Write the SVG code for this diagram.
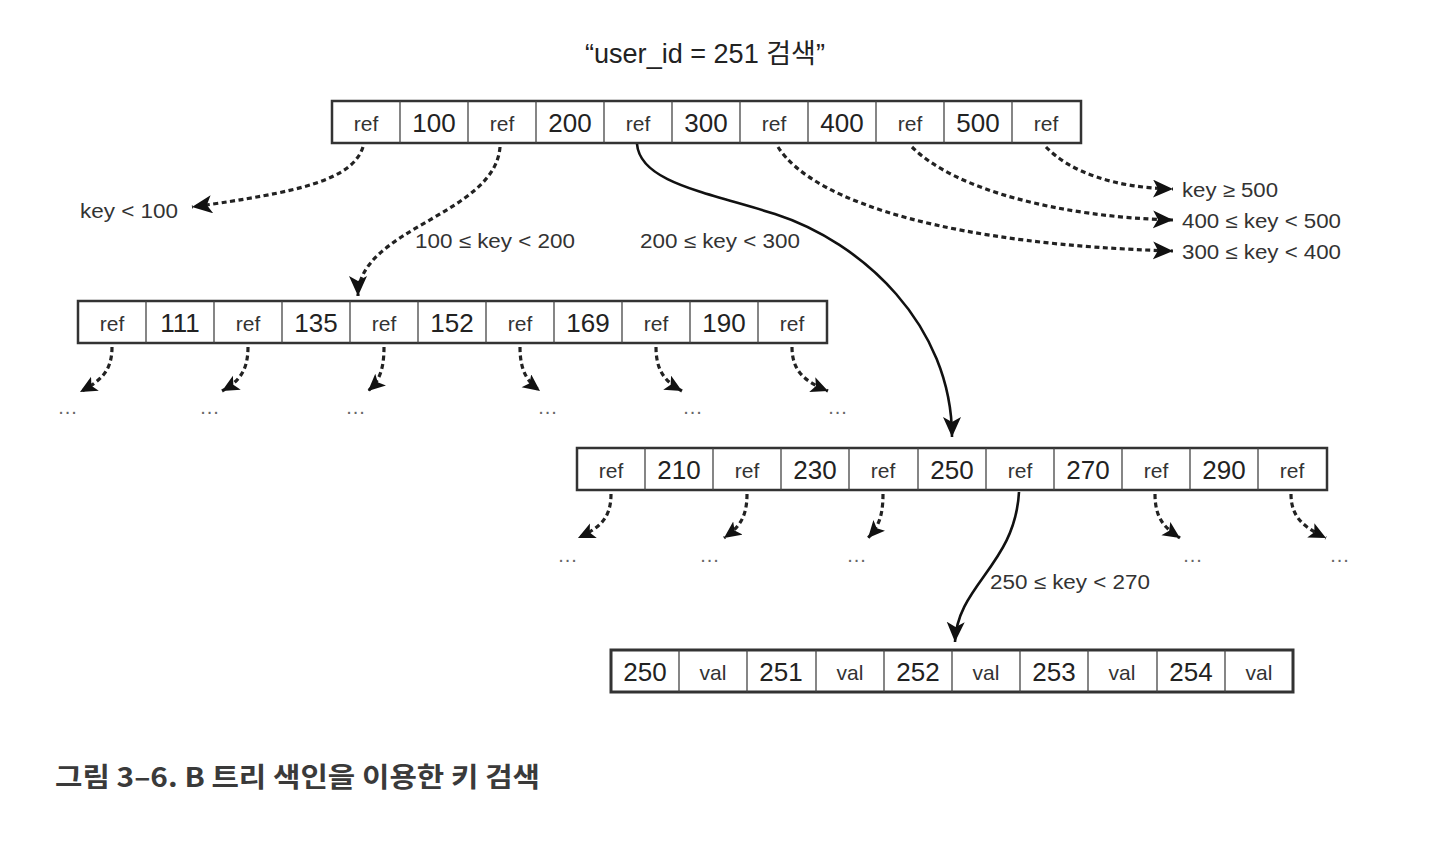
<svg xmlns="http://www.w3.org/2000/svg" width="1454" height="856" viewBox="0 0 1454 856">
<style>
.box{fill:#fff;stroke:#333;stroke-width:2.5}
.leaf{fill:#fff;stroke:#333;stroke-width:3}
.div{stroke:#444;stroke-width:1.3}
.num{font-family:"Liberation Sans",Arial,sans-serif;font-size:26px;fill:#222;text-anchor:middle}
.ref{font-family:"Liberation Sans",Arial,sans-serif;font-size:21px;fill:#333;text-anchor:middle}
.lbl{font-family:"Liberation Sans",Arial,sans-serif;font-size:20px;fill:#333}
.dots{font-family:"Liberation Sans",Arial,sans-serif;font-size:20px;fill:#666;text-anchor:middle;letter-spacing:1px}
.dash{fill:none;stroke:#222;stroke-width:3.2;stroke-dasharray:5 3.5}
.solid{fill:none;stroke:#111;stroke-width:2.6}
</style>
<defs>
<marker id="ah" markerUnits="userSpaceOnUse" markerWidth="22" markerHeight="20" refX="20" refY="9" orient="auto">
<path d="M0,0 L20,9 L0,18 L5,9 Z" fill="#111" stroke="none"/>
</marker>
<marker id="ahs" markerUnits="userSpaceOnUse" markerWidth="19" markerHeight="17" refX="17" refY="8" orient="auto">
<path d="M0,0 L17,8 L0,16 L4,8 Z" fill="#111" stroke="none"/>
</marker>
</defs>
<rect width="1454" height="856" fill="#fff"/>

<text id="title" x="705" y="63" font-family="Liberation Sans, Noto Sans CJK KR, sans-serif" font-size="27" fill="#222" text-anchor="middle" textLength="240" lengthAdjust="spacingAndGlyphs">“user_id = 251 검색”</text>

<g id="node-root">
<rect class="box" x="332" y="101" width="749" height="42"/>
<g class="div">
<line x1="400" y1="101" x2="400" y2="143"/><line x1="468" y1="101" x2="468" y2="143"/><line x1="536" y1="101" x2="536" y2="143"/><line x1="604" y1="101" x2="604" y2="143"/><line x1="672" y1="101" x2="672" y2="143"/><line x1="740" y1="101" x2="740" y2="143"/><line x1="808" y1="101" x2="808" y2="143"/><line x1="876" y1="101" x2="876" y2="143"/><line x1="944" y1="101" x2="944" y2="143"/><line x1="1012" y1="101" x2="1012" y2="143"/>
</g>
<text class="ref" x="366" y="131">ref</text><text class="num" x="434" y="132">100</text><text class="ref" x="502" y="131">ref</text><text class="num" x="570" y="132">200</text><text class="ref" x="638" y="131">ref</text><text class="num" x="706" y="132">300</text><text class="ref" x="774" y="131">ref</text><text class="num" x="842" y="132">400</text><text class="ref" x="910" y="131">ref</text><text class="num" x="978" y="132">500</text><text class="ref" x="1046" y="131">ref</text>
</g>

<g id="node-100-200">
<rect class="box" x="78" y="301" width="749" height="42"/>
<g class="div">
<line x1="146" y1="301" x2="146" y2="343"/><line x1="214" y1="301" x2="214" y2="343"/><line x1="282" y1="301" x2="282" y2="343"/><line x1="350" y1="301" x2="350" y2="343"/><line x1="418" y1="301" x2="418" y2="343"/><line x1="486" y1="301" x2="486" y2="343"/><line x1="554" y1="301" x2="554" y2="343"/><line x1="622" y1="301" x2="622" y2="343"/><line x1="690" y1="301" x2="690" y2="343"/><line x1="758" y1="301" x2="758" y2="343"/>
</g>
<text class="ref" x="112" y="331">ref</text><text class="num" x="180" y="332">111</text><text class="ref" x="248" y="331">ref</text><text class="num" x="316" y="332">135</text><text class="ref" x="384" y="331">ref</text><text class="num" x="452" y="332">152</text><text class="ref" x="520" y="331">ref</text><text class="num" x="588" y="332">169</text><text class="ref" x="656" y="331">ref</text><text class="num" x="724" y="332">190</text><text class="ref" x="792" y="331">ref</text>
</g>

<g id="node-200-300">
<rect class="box" x="577" y="448" width="750" height="42"/>
<g class="div">
<line x1="645" y1="448" x2="645" y2="490"/><line x1="713" y1="448" x2="713" y2="490"/><line x1="781" y1="448" x2="781" y2="490"/><line x1="849" y1="448" x2="849" y2="490"/><line x1="918" y1="448" x2="918" y2="490"/><line x1="986" y1="448" x2="986" y2="490"/><line x1="1054" y1="448" x2="1054" y2="490"/><line x1="1122" y1="448" x2="1122" y2="490"/><line x1="1190" y1="448" x2="1190" y2="490"/><line x1="1258" y1="448" x2="1258" y2="490"/>
</g>
<text class="ref" x="611" y="478">ref</text><text class="num" x="679" y="479">210</text><text class="ref" x="747" y="478">ref</text><text class="num" x="815" y="479">230</text><text class="ref" x="883" y="478">ref</text><text class="num" x="952" y="479">250</text><text class="ref" x="1020" y="478">ref</text><text class="num" x="1088" y="479">270</text><text class="ref" x="1156" y="478">ref</text><text class="num" x="1224" y="479">290</text><text class="ref" x="1292" y="478">ref</text>
</g>

<g id="node-leaf">
<rect class="leaf" x="611" y="650" width="682" height="42"/>
<g class="div">
<line x1="679" y1="650" x2="679" y2="692"/><line x1="747" y1="650" x2="747" y2="692"/><line x1="816" y1="650" x2="816" y2="692"/><line x1="884" y1="650" x2="884" y2="692"/><line x1="952" y1="650" x2="952" y2="692"/><line x1="1020" y1="650" x2="1020" y2="692"/><line x1="1088" y1="650" x2="1088" y2="692"/><line x1="1157" y1="650" x2="1157" y2="692"/><line x1="1225" y1="650" x2="1225" y2="692"/>
</g>
<text class="num" x="645" y="681">250</text><text class="ref" x="713" y="680">val</text><text class="num" x="781" y="681">251</text><text class="ref" x="850" y="680">val</text><text class="num" x="918" y="681">252</text><text class="ref" x="986" y="680">val</text><text class="num" x="1054" y="681">253</text><text class="ref" x="1122" y="680">val</text><text class="num" x="1191" y="681">254</text><text class="ref" x="1259" y="680">val</text>
</g>

<g id="connectors">
<path class="dash" d="M363,147 C352,180 300,192 192,207" marker-end="url(#ah)"/>
<path class="dash" d="M500,147 C495,215 358,228 358,296" marker-end="url(#ah)"/>
<path class="solid" d="M637,144 C640,182 705,192 775,214 C862,242 952,325 952,437" marker-end="url(#ah)"/>
<path class="dash" d="M778,147 C815,205 960,245 1173,251" marker-end="url(#ah)"/>
<path class="dash" d="M912,147 C955,190 1060,217 1173,220" marker-end="url(#ah)"/>
<path class="dash" d="M1046,147 C1070,172 1115,188 1173,189" marker-end="url(#ah)"/>

<path class="dash" d="M112,347 C112,372 100,381 80,392" marker-end="url(#ahs)"/>
<path class="dash" d="M248,347 C248,372 238,382 222,391" marker-end="url(#ahs)"/>
<path class="dash" d="M384,347 C384,372 378,382 368,391" marker-end="url(#ahs)"/>
<path class="dash" d="M520,347 C520,372 528,382 540,391" marker-end="url(#ahs)"/>
<path class="dash" d="M656,347 C656,372 666,382 682,391" marker-end="url(#ahs)"/>
<path class="dash" d="M792,347 C792,372 806,382 828,391" marker-end="url(#ahs)"/>

<path class="dash" d="M611,494 C611,519 599,528 578,538" marker-end="url(#ahs)"/>
<path class="dash" d="M747,494 C747,519 738,528 724,538" marker-end="url(#ahs)"/>
<path class="dash" d="M883,494 C883,519 877,528 868,538" marker-end="url(#ahs)"/>
<path class="dash" d="M1155,494 C1155,519 1165,528 1180,538" marker-end="url(#ahs)"/>
<path class="dash" d="M1291,494 C1291,519 1306,528 1326,538" marker-end="url(#ahs)"/>

<path class="solid" d="M1019,492 C1015,565 957,585 955,642" marker-end="url(#ah)"/>
</g>

<g id="labels">
<text class="lbl" x="80" y="218" textLength="98" lengthAdjust="spacingAndGlyphs">key &lt; 100</text>
<text class="lbl" x="415" y="248" textLength="160" lengthAdjust="spacingAndGlyphs">100 ≤ key &lt; 200</text>
<text class="lbl" x="640" y="248" textLength="160" lengthAdjust="spacingAndGlyphs">200 ≤ key &lt; 300</text>
<text class="lbl" x="1182" y="197" textLength="96" lengthAdjust="spacingAndGlyphs">key ≥ 500</text>
<text class="lbl" x="1182" y="228" textLength="159" lengthAdjust="spacingAndGlyphs">400 ≤ key &lt; 500</text>
<text class="lbl" x="1182" y="259" textLength="159" lengthAdjust="spacingAndGlyphs">300 ≤ key &lt; 400</text>
<text class="lbl" x="990" y="589" textLength="160" lengthAdjust="spacingAndGlyphs">250 ≤ key &lt; 270</text>
</g>

<g id="ellipses">
<text class="dots" x="68" y="414">...</text><text class="dots" x="210" y="414">...</text><text class="dots" x="356" y="414">...</text><text class="dots" x="548" y="414">...</text><text class="dots" x="693" y="414">...</text><text class="dots" x="838" y="414">...</text>
<text class="dots" x="568" y="562">...</text><text class="dots" x="710" y="562">...</text><text class="dots" x="857" y="562">...</text><text class="dots" x="1193" y="562">...</text><text class="dots" x="1340" y="562">...</text>
</g>

<text id="caption" x="55" y="787" font-family="Noto Sans CJK KR, sans-serif" font-size="27" font-weight="700" fill="#3a3a3a" textLength="485" lengthAdjust="spacingAndGlyphs">그림 3–6. B 트리 색인을 이용한 키 검색</text>
</svg>
